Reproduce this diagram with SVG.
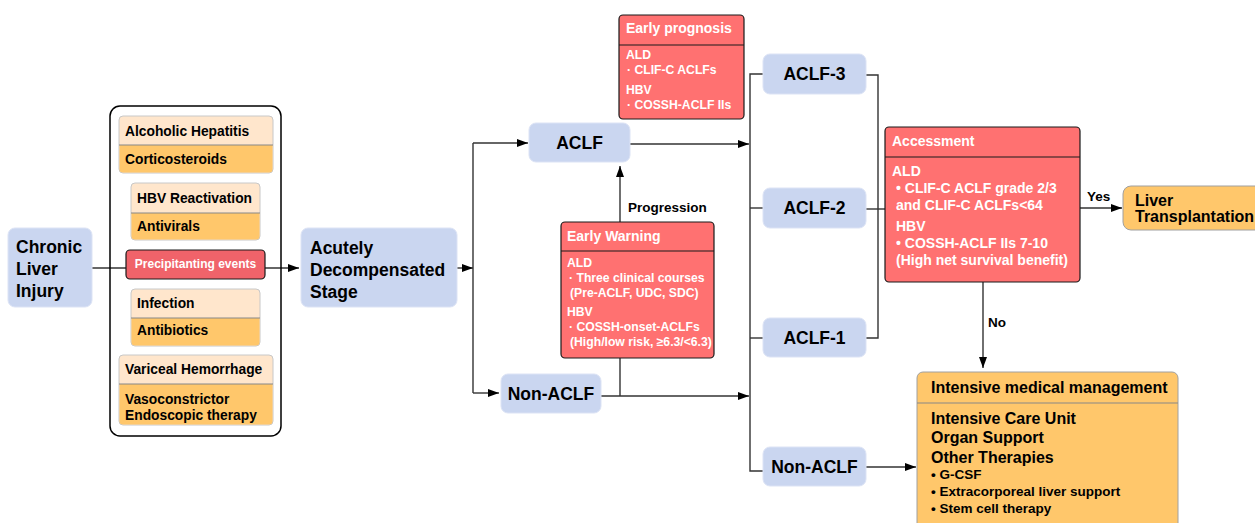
<svg xmlns="http://www.w3.org/2000/svg" width="1255" height="523" viewBox="0 0 1255 523">
<defs>
<marker id="arr" markerWidth="11" markerHeight="8" refX="11" refY="4" orient="auto" markerUnits="userSpaceOnUse"><path d="M0,0 L11,4 L0,8 z" fill="#000"/></marker>
<style>
text{font-family:"Liberation Sans",Arial,sans-serif;font-weight:bold;}
.blue{fill:#CAD6F0;stroke:#DCE3F5;stroke-width:1;}
.peach{fill:#FFE6CC;stroke:#C8C8C8;stroke-width:1;}
.orange{fill:#FFC76B;stroke:#A0A0A0;stroke-width:1;}
.red{fill:#FF7171;stroke:#1a1a1a;stroke-width:1.2;}
.div{stroke:#1a1a1a;stroke-width:1.2;}
.divg{stroke:#888;stroke-width:1.2;}
.con{fill:none;stroke:#333;stroke-width:1.4;}
.big{font-size:17.5px;fill:#000;}
.mid{font-size:13.8px;fill:#000;}
.wt{font-size:14px;fill:#fff;}
.ws{font-size:12.2px;fill:#fff;}
.lbl{font-size:13.5px;fill:#000;}
</style>
</defs>
<g id="connectors">
<path class="con" d="M92,268 H299" marker-end="url(#arr)"/>
<path class="con" d="M457,268 H473" marker-end="url(#arr)"/>
<path class="con" d="M473,143 V393"/>
<path class="con" d="M473,143 H528" marker-end="url(#arr)"/>
<path class="con" d="M473,393 H499" marker-end="url(#arr)"/>
<path class="con" d="M620,396 V166" marker-end="url(#arr)"/>
<path class="con" d="M630,144 H749" marker-end="url(#arr)"/>
<path class="con" d="M601,396 H749" marker-end="url(#arr)"/>
<path class="con" d="M763,74 H750 V471 H763"/>
<path class="con" d="M750,208 H763"/>
<path class="con" d="M750,338 H763"/>
<path class="con" d="M866,75 H878 V338 H866"/>
<path class="con" d="M866,209 H885"/>
<path class="con" d="M1080,208 H1122" marker-end="url(#arr)"/>
<path class="con" d="M983,282 V368" marker-end="url(#arr)"/>
<path class="con" d="M866,467 H916" marker-end="url(#arr)"/>
<text class="lbl" x="628" y="212">Progression</text>
<text class="lbl" x="1087" y="201">Yes</text>
<text class="lbl" x="988" y="327">No</text>
</g>
<g id="chronic">
<rect class="blue" x="8" y="228" width="84" height="79" rx="7"/>
<text class="big" x="16" y="253">Chronic</text>
<text class="big" x="16" y="275">Liver</text>
<text class="big" x="16" y="297">Injury</text>
</g>
<g id="container">
<rect x="110" y="106" width="171" height="330" rx="10" fill="none" stroke="#000" stroke-width="1.5"/>
</g>
<g id="alcoholic">
<rect class="peach" x="119" y="116" width="154" height="57" rx="4"/>
<path fill="#FFC76B" d="M119.5,145 H272.5 V169 a3.5,3.5 0 0 1 -3.5,3.5 H123 a3.5,3.5 0 0 1 -3.5,-3.5 z"/>
<line class="divg" x1="119" y1="145" x2="273" y2="145"/>
<text class="mid" x="125" y="136">Alcoholic Hepatitis</text>
<text class="mid" x="125" y="164">Corticosteroids</text>
</g>
<g id="hbv">
<rect class="peach" x="131" y="183" width="129" height="57" rx="4"/>
<path fill="#FFC76B" d="M131.5,213 H259.5 V236 a3.5,3.5 0 0 1 -3.5,3.5 H135 a3.5,3.5 0 0 1 -3.5,-3.5 z"/>
<line class="divg" x1="131" y1="213" x2="260" y2="213"/>
<text class="mid" x="137" y="203">HBV Reactivation</text>
<text class="mid" x="137" y="231">Antivirals</text>
</g>
<g id="precip">
<rect x="126" y="250" width="139" height="29" rx="4" fill="#F0636A" stroke="#1a1a1a" stroke-width="1.2"/>
<text x="195.5" y="268" font-size="12" fill="#fff" text-anchor="middle">Precipitanting events</text>
</g>
<g id="infection">
<rect class="peach" x="131" y="289" width="129" height="57" rx="4"/>
<path fill="#FFC76B" d="M131.5,318 H259.5 V342 a3.5,3.5 0 0 1 -3.5,3.5 H135 a3.5,3.5 0 0 1 -3.5,-3.5 z"/>
<line class="divg" x1="131" y1="318" x2="260" y2="318"/>
<text class="mid" x="137" y="308">Infection</text>
<text class="mid" x="137" y="335">Antibiotics</text>
</g>
<g id="variceal">
<rect class="peach" x="119" y="355" width="154" height="70" rx="4"/>
<path fill="#FFC76B" d="M119.5,384 H272.5 V421 a3.5,3.5 0 0 1 -3.5,3.5 H123 a3.5,3.5 0 0 1 -3.5,-3.5 z"/>
<line class="divg" x1="119" y1="384" x2="273" y2="384"/>
<text class="mid" x="125" y="374">Variceal Hemorrhage</text>
<text class="mid" x="125" y="404">Vasoconstrictor</text>
<text class="mid" x="125" y="420">Endoscopic therapy</text>
</g>
<g id="acute">
<rect class="blue" x="301" y="228" width="156" height="79" rx="7"/>
<text class="big" x="310" y="254">Acutely</text>
<text class="big" x="310" y="276">Decompensated</text>
<text class="big" x="310" y="298">Stage</text>
</g>
<g id="aclf">
<rect class="blue" x="529" y="123" width="101" height="39" rx="7"/>
<text class="big" x="579.5" y="149" text-anchor="middle">ACLF</text>
</g>
<g id="nonaclf1">
<rect class="blue" x="501" y="374" width="100" height="39" rx="7"/>
<text class="big" x="551" y="400" text-anchor="middle">Non-ACLF</text>
</g>
<g id="prognosis">
<rect class="red" x="619" y="15" width="125" height="104" rx="4"/>
<line class="div" x1="619" y1="45" x2="744" y2="45"/>
<text class="wt" x="626" y="33">Early prognosis</text>
<text class="ws" x="626" y="59">ALD</text>
<text class="ws" x="627" y="74">· CLIF-C ACLFs</text>
<text class="ws" x="626" y="94">HBV</text>
<text class="ws" x="627" y="109">· COSSH-ACLF IIs</text>
</g>
<g id="warning">
<rect class="red" x="561" y="222" width="153" height="136" rx="4"/>
<line class="div" x1="561" y1="251" x2="714" y2="251"/>
<text class="wt" x="567" y="241">Early Warning</text>
<text class="ws" x="567" y="267">ALD</text>
<text class="ws" x="569" y="282">· Three clinical courses</text>
<text class="ws" x="570" y="297">(Pre-ACLF, UDC, SDC)</text>
<text class="ws" x="567" y="316">HBV</text>
<text class="ws" x="569" y="331">· COSSH-onset-ACLFs</text>
<text class="ws" x="570" y="346">(High/low risk, ≥6.3/&lt;6.3)</text>
</g>
<g id="aclf3">
<rect class="blue" x="763" y="54" width="103" height="40" rx="7"/>
<text class="big" x="814.5" y="80" text-anchor="middle">ACLF-3</text>
</g>
<g id="aclf2">
<rect class="blue" x="763" y="188" width="103" height="40" rx="7"/>
<text class="big" x="814.5" y="214" text-anchor="middle">ACLF-2</text>
</g>
<g id="aclf1">
<rect class="blue" x="763" y="318" width="103" height="39" rx="7"/>
<text class="big" x="814.5" y="344" text-anchor="middle">ACLF-1</text>
</g>
<g id="nonaclf2">
<rect class="blue" x="763" y="447" width="103" height="39" rx="7"/>
<text class="big" x="814.5" y="473" text-anchor="middle">Non-ACLF</text>
</g>
<g id="assessment">
<rect class="red" x="885" y="127" width="195" height="155" rx="4"/>
<line class="div" x1="885" y1="157" x2="1080" y2="157"/>
<text class="wt" x="892" y="146">Accessment</text>
<text class="wt" x="892" y="176">ALD</text>
<text class="wt" x="896" y="193">• CLIF-C ACLF grade 2/3</text>
<text class="wt" x="896" y="210">and CLIF-C ACLFs&lt;64</text>
<text class="wt" x="896" y="231">HBV</text>
<text class="wt" x="896" y="248">• COSSH-ACLF IIs 7-10</text>
<text class="wt" x="896" y="265">(High net survival benefit)</text>
</g>
<g id="transplant">
<rect class="orange" x="1123" y="186" width="150" height="44" rx="8"/>
<text x="1135" y="206" font-size="16" fill="#000">Liver</text>
<text x="1135" y="222" font-size="16" fill="#000">Transplantation</text>
</g>
<g id="intensive">
<rect class="orange" x="917" y="372" width="261" height="170" rx="6"/>
<line class="divg" x1="917" y1="403" x2="1178" y2="403"/>
<text x="931" y="393" font-size="16" fill="#000">Intensive medical management</text>
<text x="931" y="424" font-size="16" fill="#000">Intensive Care Unit</text>
<text x="931" y="443" font-size="16" fill="#000">Organ Support</text>
<text x="931" y="463" font-size="16" fill="#000">Other Therapies</text>
<text x="931" y="479" font-size="13.5" fill="#000">• G-CSF</text>
<text x="931" y="496" font-size="13.5" fill="#000">• Extracorporeal liver support</text>
<text x="931" y="513" font-size="13.5" fill="#000">• Stem cell therapy</text>
</g>
</svg>
